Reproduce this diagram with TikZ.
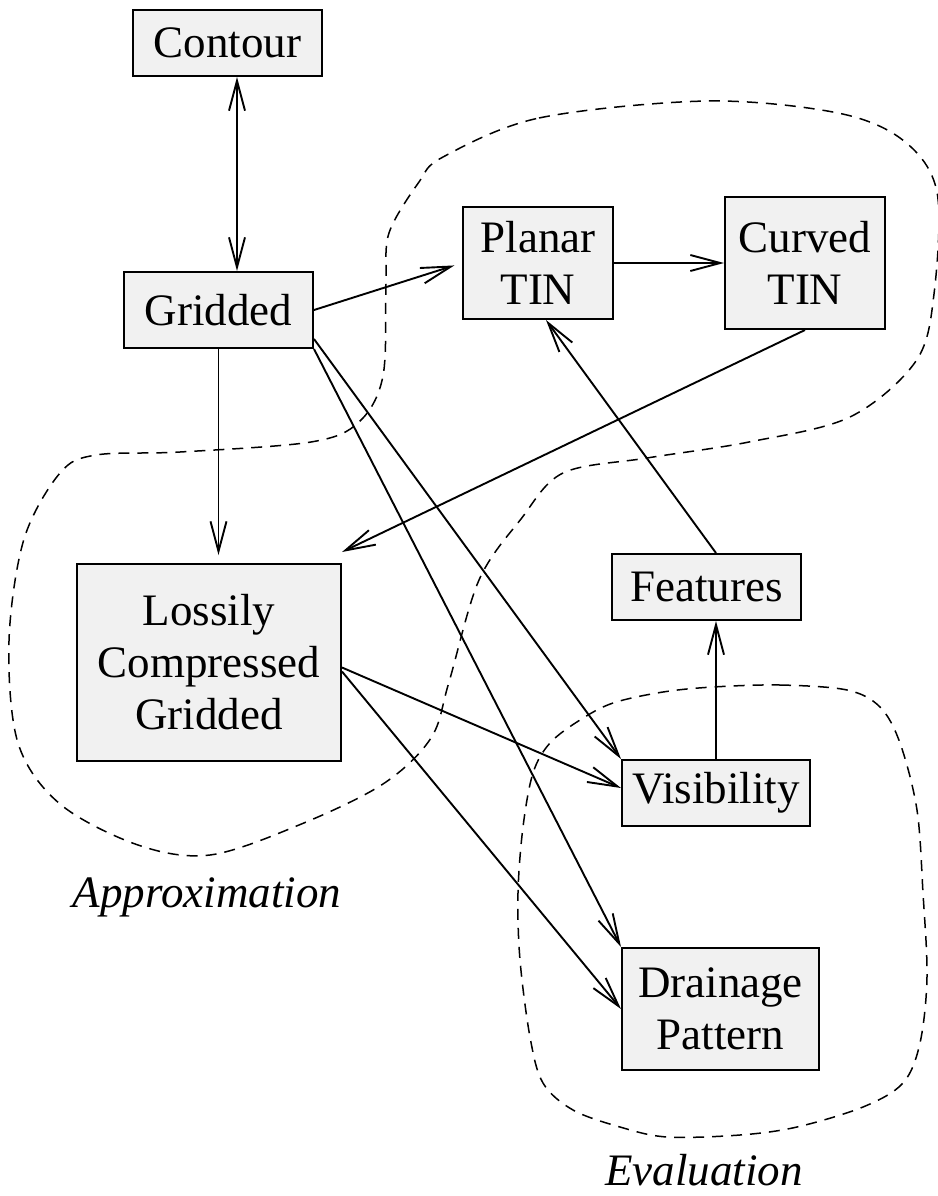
\documentclass[tikz,border=0pt]{standalone}
\usepackage{fontspec}
\setmainfont{Liberation Serif}
\usetikzlibrary{arrows.meta}
\definecolor{boxgray}{RGB}{241,241,241}

\begin{document}
\begin{tikzpicture}[x=0.5pt, y=-0.5pt,
		>={Straight Barb[length=15pt, width=8pt]},
		block/.style={
			rectangle,
			draw=black,
			fill=boxgray,
			line width=1pt,
			inner sep=0pt,
			align=center,
			font=\fontsize{22.5pt}{26pt}\selectfont
		},
		arrow/.style={->, line width=0.95pt},
		region/.style={dash pattern=on 5.5pt off 4pt, line width=0.75pt},
		tag/.style={font=\fontsize{22.5pt}{26pt}\selectfont\itshape}]

		\useasboundingbox (0,0) rectangle (938,1196);

		\draw [region] plot [smooth cycle, tension=0.55] coordinates {
			(443,157) (539,118) (707,101) (838,113) (904,141) (937,192)
			(934,294) (916,361) (850,417) (749,442) (647,458) (563,473)
			(521,519) (479,580) (449,682) (431,738) (383,784) (299,825)
			(210,855) (138,845) (60,804) (18,743) (9,641) (24,539)
			(60,473) (96,455) (180,452) (311,442) (359,422) (383,376)
			(386,284) (389,233) (419,182)};
		\draw [region] plot [smooth cycle, tension=0.55] coordinates {
			(713,687) (780,685) (847,690) (880,707) (900,743) (917,810)
			(923,893) (927,977) (920,1043) (903,1083) (863,1107) (797,1127)
			(740,1135) (667,1137) (620,1127) (573,1110) (543,1083) (530,1037)
			(520,960) (518,893) (523,827) (533,773) (550,743) (580,720)
			(613,703) (663,692)};

		\node [block, minimum width=94.5pt, minimum height=33pt] (contour) at (227.5,43) {Contour};
		\node [block, minimum width=94.5pt, minimum height=38pt] (gridded) at (218.5,310) {Gridded};
		\node [block, minimum width=75pt, minimum height=56pt] (planar) at (538,263) {Planar\\TIN};
		\node [block, minimum width=80pt, minimum height=66pt] (curved) at (805,263) {Curved\\TIN};
		\node [block, minimum width=94.5pt, minimum height=33pt] (features) at (706.5,587) {Features};
		\node [block, minimum width=94pt, minimum height=33pt] (visibility) at (716,793) {Visibility};
		\node [block, minimum width=98.5pt, minimum height=61pt] (drainage) at (720.5,1009) {Drainage\\Pattern};
		\node [block, minimum width=132pt, minimum height=98.5pt] (lossy) at (209,662.5) {Lossily\\Compressed\\Gridded};

		\node [tag] (approx) at (207,897) {Approximation};
		\node [tag] (evaluation) at (704,1170) {Evaluation};

		\draw [arrow, <->] ([xshift=4.75pt]contour.south) -- ([xshift=4.75pt]contour.south |- gridded.north);
		\draw [arrow, shorten >=4pt] (gridded.east) -- (planar.west);
		\draw [arrow] (planar.east) -- (curved.west);
		\draw [arrow, shorten >=4pt] (gridded.south) -- (gridded.south |- lossy.north);
		\draw [arrow] (curved.south) -- ([yshift=5.5pt]lossy.north east);
		\draw [arrow] ([yshift=5pt]gridded.south east) -- (visibility.north west);
		\draw [arrow] (gridded.south east) -- (drainage.north west);
		\draw [arrow] ([yshift=-2.5pt]lossy.east) -- ([yshift=2.5pt]visibility.west);
		\draw [arrow] ([yshift=-4.5pt]lossy.east) -- (drainage.west);
		\draw [arrow] (visibility.north) -- (visibility.north |- features.south);
		\draw [arrow] (visibility.north |- features.north) -- ([xshift=4pt]planar.south);
	\end{tikzpicture}
\end{document}
